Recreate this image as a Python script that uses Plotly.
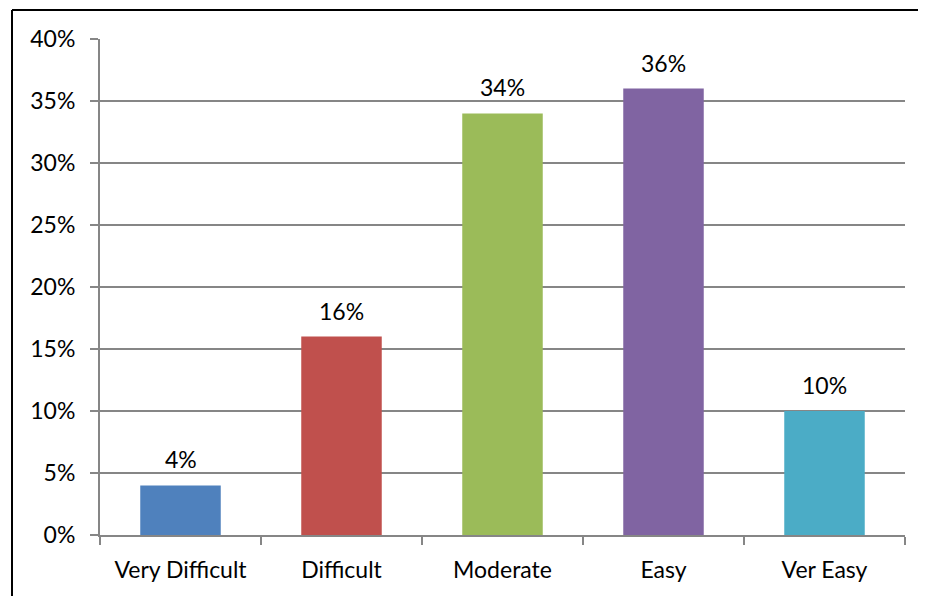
import plotly.graph_objects as go

categories = ["Very Difficult", "Difficult", "Moderate", "Easy", "Ver Easy"]
values = [0.04, 0.16, 0.34, 0.36, 0.10]
labels = ["4%", "16%", "34%", "36%", "10%"]
colors = ["#4F81BD", "#C0504D", "#9BBB59", "#8064A2", "#4BACC6"]

FONT = "Lato"
OFF = 8  # page body margin
W, H = 926 - OFF, 596 - OFF
L, R, T, B = 100 - OFF, 21, 39 - OFF, 61
pw, ph = W - L - R, H - T - B

fig = go.Figure(go.Bar(x=categories, y=values, marker=dict(color=colors, line=dict(width=0)),
                       width=0.5, showlegend=False))

for c, v, t in zip(categories, values, labels):
    fig.add_annotation(x=c, y=v, text=t, showarrow=False, yanchor="bottom", yshift=10,
                       font=dict(family=FONT, size=23, color="#000000"))

fx = (12 - 100) / pw
fy = (535 - 10) / ph
fig.add_shape(type="line", xref="paper", yref="paper", x0=fx, x1=1 + (R + 4) / pw, y0=fy, y1=fy,
              line=dict(color="#000000", width=2), layer="above")
fig.add_shape(type="line", xref="paper", yref="paper", x0=fx, x1=fx, y0=-(B + 4) / ph, y1=fy,
              line=dict(color="#000000", width=2), layer="above")

fig.update_layout(
    width=W, height=H,
    margin=dict(l=L, r=R, t=T, b=B),
    paper_bgcolor="white", plot_bgcolor="white",
    font=dict(family=FONT, size=23, color="#000000"),
    xaxis=dict(showgrid=False, showline=True, linecolor="#868686", linewidth=2,
               ticks="outside", ticklen=8, tickcolor="#868686", tickwidth=2,
               tickson="boundaries", ticklabelstandoff=13,
               tickfont=dict(family=FONT, size=23)),
    yaxis=dict(range=[0, 0.4], dtick=0.05, tickformat=".0%", showgrid=True,
               gridcolor="#868686", gridwidth=2, showline=True, linecolor="#868686",
               linewidth=2, ticks="outside", ticklen=8, tickcolor="#868686", tickwidth=2,
               ticklabelstandoff=10, zeroline=False,
               tickfont=dict(family=FONT, size=23)),
)

fig.write_html("out.html", config={"displayModeBar": False})
